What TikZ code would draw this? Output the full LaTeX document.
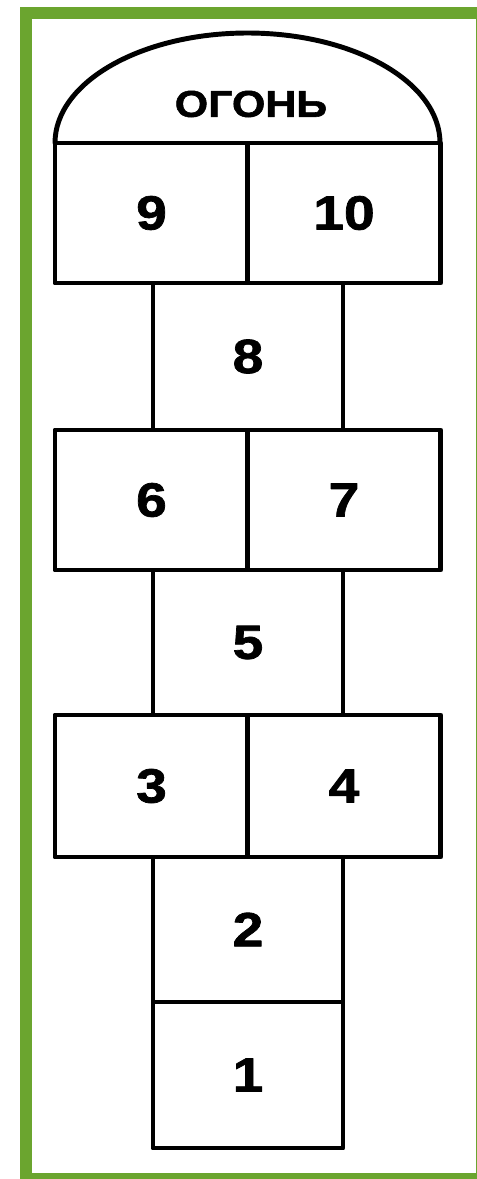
\documentclass[tikz,border=0pt]{standalone}
\usepackage{fontspec}
\newfontfamily\hopfont[FakeStretch=1.15,FakeBold=1.5]{Liberation Sans}
\definecolor{framegreen}{RGB}{107,165,47}
\tikzset{
  hopline/.style={line width=3.7pt, line join=round, line cap=round},
  cell/.style={draw, hopline, inner sep=0pt, outer sep=0pt,
    font=\hopfont\bfseries\fontsize{36}{40}\selectfont},
  wide/.style={cell, minimum width=193*0.75pt},
  narrow/.style={cell, minimum width=190*0.75pt},
}
\begin{document}
\begin{tikzpicture}[x=0.75pt,y=-0.75pt]
\useasboundingbox (0,0) rectangle (477,1179);
\fill[framegreen] (20,7) rectangle (477,1179);
\fill[white] (32,19) rectangle (476,1173);
% cells
\node[wide, minimum height=140*0.75pt] (c9) at (151.5,213) {9};
\node[wide, minimum height=140*0.75pt] (c10) at (344,213) {10};
\node[narrow, minimum height=147*0.75pt] (c8) at (248,356.5) {8};
\node[wide, minimum height=140*0.75pt] (c6) at (151.5,500) {6};
\node[wide, minimum height=140*0.75pt] (c7) at (344,500) {7};
\node[narrow, minimum height=145*0.75pt] (c5) at (248,642.5) {5};
\node[wide, minimum height=142*0.75pt] (c3) at (151.5,786) {3};
\node[wide, minimum height=142*0.75pt] (c4) at (344,786) {4};
\node[narrow, minimum height=145*0.75pt] (c2) at (248,929.5) {2};
\node[narrow, minimum height=146*0.75pt] (c1) at (248,1075) {1};
% fire
\node[font=\hopfont\bfseries\fontsize{28}{30}\selectfont, inner sep=0pt] (fire) at (251,104) {ОГОНЬ};
\draw[hopline] (c9.north west) arc[start angle=180, end angle=0, x radius=192.5*0.75pt, y radius=110*0.75pt];
\end{tikzpicture}
\end{document}
